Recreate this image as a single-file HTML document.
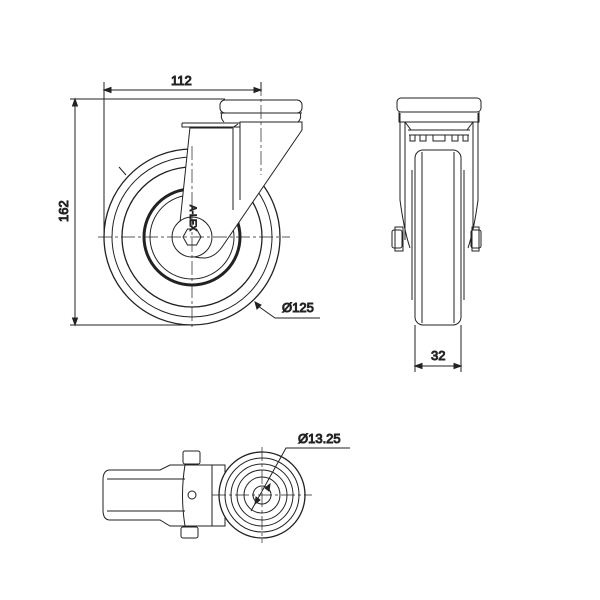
<!DOCTYPE html>
<html><head><style>body{margin:0;background:#fff}svg{display:block}text{font-family:"Liberation Sans",sans-serif;font-size:13px;fill:#333;font-weight:normal}</style></head><body>
<svg width="600" height="600" viewBox="0 0 600 600" xmlns="http://www.w3.org/2000/svg" fill="none" stroke="#222" stroke-width="1">
<circle cx="192" cy="237" r="88" stroke-width="1.3"/>
<circle cx="192" cy="237" r="80"/>
<circle cx="192" cy="237" r="70" stroke-width="1.3"/>
<circle cx="192" cy="237" r="48" stroke-width="3"/>
<circle cx="192" cy="237" r="42"/>
<path d="M182,123 L240,123 L240,205 L302,128 L300,122 L236,122 Z" fill="#fff" stroke="none"/>
<path d="M190,127 L179,232 Q176,258 205,258 Q215,257 222,247 L302,130 L302,122 L240,122 L240,127 Z" fill="#fff"/>
<path d="M182,123 L240,123 M182,123 L182,127 L190,127 M190,128 L232,128 L238,124 M233,128 L233,210 M240,123 L240,200"/>
<path d="M220,113 L302,113 M222,113 Q220,118 224,122 M300,113 Q302,118 298,122"/>
<rect x="220" y="100" width="82" height="13" rx="5" fill="#fff"/>
<circle cx="192" cy="237" r="20" fill="#fff"/>
<polygon points="183,237 187.5,229 196.5,229 201,237 196.5,245 187.5,245" fill="#fff"/>
<text x="0" y="0" transform="translate(190,205) rotate(90)" style="font-size:9px">A-LEX</text>
<path d="M98,237 L290,237 M192,146 L192,330 M261,82 L261,175" stroke-width="0.7" stroke-dasharray="14,3,3,3"/>
<path d="M104,82 L104,237 M261,82 L261,92 M106,90 L259,90 M70,99 L225,99 M70,325 L192,325 M75,101 L75,323"/>
<path d="M104,90 l7,-2.5 v5 z M261,90 l-7,-2.5 v5 z M75,99 l-2.5,7 h5 z M75,325 l-2.5,-7 h5 z" fill="#222"/>
<text x="171" y="85">112</text>
<text x="0" y="0" transform="translate(68,222) rotate(-90)">162</text>
<path d="M119,167 L126,175 M258,306 L275,318 L320,318"/>
<path d="M255,302 l2,7 l4,-4 z" fill="#222"/>
<text x="282" y="312">Ø125</text>
<rect x="397" y="98" width="84" height="14" rx="4"/>
<path d="M399,112 L399,122 L479,122 L479,112"/>
<path d="M400,113 L400,200 Q404,230 410,248 M478,113 L478,200 Q474,230 468,248"/>
<path d="M405,122 L405,240 M473,122 L473,240 M405,122 L411,130 M473,122 L467,130 M408,130 L470,130 M409,135 L469,135"/>
<path d="M410,135 L410,141 L415,141 L415,135 M420,135 L420,141 L426,141 L426,135 M433,135 L433,141 L445,141 L445,135 M452,135 L452,141 L458,141 L458,135 M463,135 L463,141 L468,141 L468,135"/>
<rect x="415" y="150" width="46" height="175" rx="8" fill="#fff"/>
<path d="M422,152 L422,323 M454,152 L454,323 M412,170 L412,300 M464,170 L464,300"/>
<rect x="392" y="230" width="10" height="18" rx="2" fill="#fff"/>
<rect x="395" y="227" width="8" height="24"/>
<rect x="471" y="230" width="10" height="18" rx="2" fill="#fff"/>
<rect x="472" y="227" width="7" height="24"/>
<path d="M415,325 L415,372 M461,325 L461,372 M417,366 L459,366"/>
<path d="M415,366 l7,-2.5 v5 z M461,366 l-7,-2.5 v5 z" fill="#222"/>
<text x="431" y="360">32</text>
<path d="M110,470 L160,470 L170,465 L225,465 L225,526 L170,526 L160,520 L110,520 Q103,520 103,510 L103,480 Q103,470 110,470 Z" fill="#fff"/>
<path d="M107,479 L185,479 M107,511 L185,511 M185,465 Q180,495 185,526 M212,465 L212,526"/>
<circle cx="192" cy="495" r="4"/>
<rect x="183" y="451" width="17" height="13" rx="2"/>
<rect x="181" y="527" width="17" height="11" rx="2"/>
<circle cx="262" cy="495" r="43" fill="#fff" stroke-width="1.3"/>
<circle cx="262" cy="495" r="37"/>
<circle cx="262" cy="495" r="31"/>
<circle cx="262" cy="495" r="25"/>
<circle cx="262" cy="495" r="18"/>
<circle cx="262" cy="495" r="9"/>
<path d="M212,495 L312,495 M262,447 L262,543" stroke-width="0.7" stroke-dasharray="14,3,3,3"/>
<path d="M251,511 L286,448 L350,448"/>
<path d="M255,504 l1,-7 l4,3 z M270,484 l-1,7 l-4,-3 z" fill="#222"/>
<text x="298" y="443">Ø13.25</text>
</svg>
</body></html>
